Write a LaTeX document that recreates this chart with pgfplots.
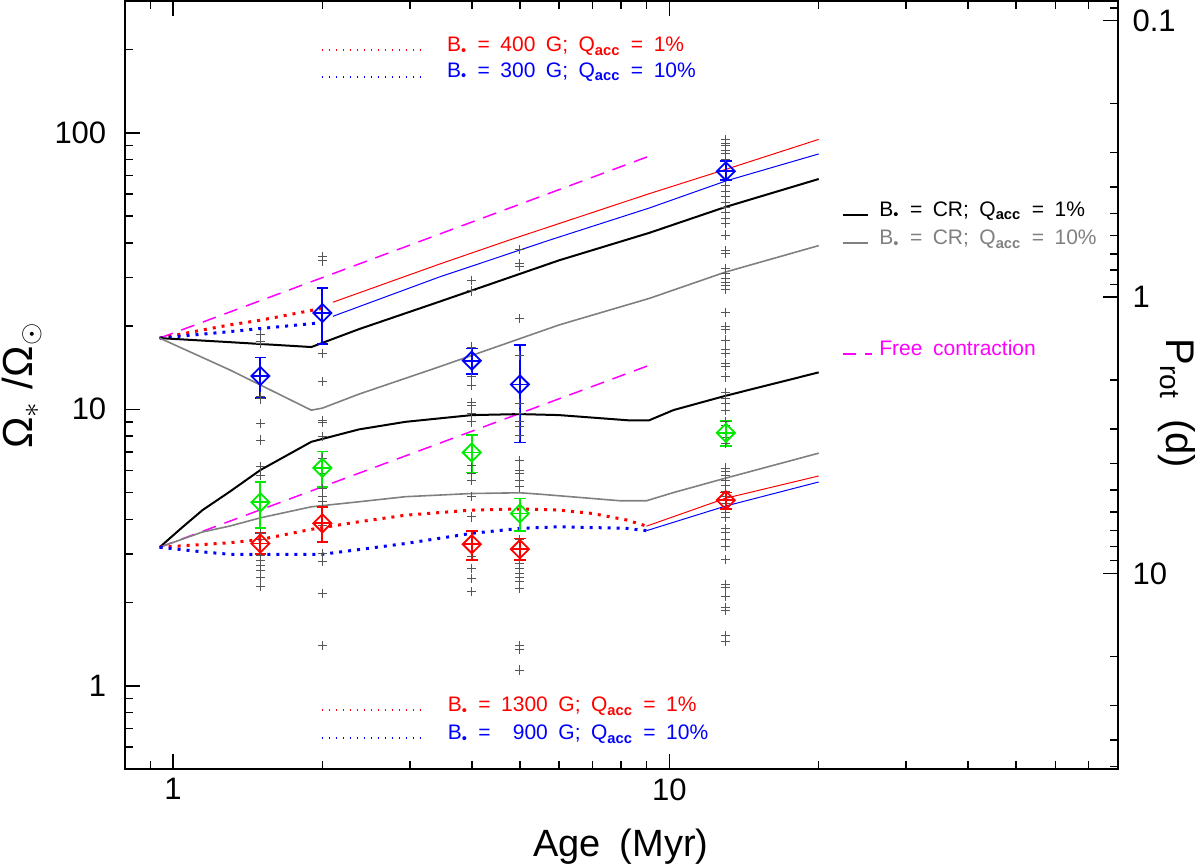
\documentclass[border=0pt]{standalone}
\usepackage{fontspec}
\setmainfont{Liberation Sans}
\usepackage{pgfplots}
\pgfplotsset{compat=1.18}
\definecolor{cgray}{RGB}{128,128,128}
\definecolor{ccross}{RGB}{85,85,85}
\definecolor{cgreen}{RGB}{0,235,0}
\definecolor{cred}{RGB}{255,0,0}
\definecolor{cblue}{RGB}{0,0,255}
\definecolor{cmag}{RGB}{255,0,255}
\newcommand{\gp}{\hspace{0.5em}}
\newcommand{\Bs}{B\textsubscript{\textbullet}}
\newcommand{\Qa}{Q\textsubscript{\textbf{acc}}}
\tikzset{
  thickdot/.style={line width=1.5pt, dash pattern=on 1.5pt off 3pt},
  legdot/.style={line width=0.8pt, dash pattern=on 0.7pt off 2.8pt},
  magdash/.style={cmag, line width=0.75pt, dash pattern=on 7pt off 4.5pt},
  legfont/.style={font=\fontsize{10.5}{12}\selectfont},
}
\pgfplotsset{
  ebar/.style={only marks, mark=square, mark size=3.2pt, mark options={rotate=45, line width=0.9pt},
    error bars/.cd, y dir=both, y explicit, error mark=-,
    error mark options={rotate=90, mark size=2.9pt, line width=0.9pt},
    error bar style={line width=0.9pt}},
  cplus/.style={only marks, mark=+, mark size=4.5pt, mark options={line width=0.9pt}},
}
\begin{document}
\begin{tikzpicture}
\path[use as bounding box] (0pt,0pt) rectangle (600pt,432.5pt);
\begin{axis}[
  at={(62.45pt,48pt)}, anchor=south west, scale only axis,
  width=496.3pt, height=384pt,
  xmode=log, ymode=log, xmin=0.8, xmax=80, ymin=0.5, ymax=300,
  xtick={1,10}, xticklabels={1,10},
  minor xtick={0.9,2,3,4,5,6,7,8,9,20,30,40,50,60,70},
  ytick={1,10,100}, yticklabels={1,10,100},
  minor ytick={0.6,0.7,0.8,0.9,2,3,4,5,6,7,8,9,20,30,40,50,60,70,80,90,200},
  ytick pos=left,
  tick align=inside,
  major tick length=7.5pt, minor tick length=3.9pt,
  every tick/.style={black, line width=0.75pt},
  axis line style={line width=1pt},
  ticklabel style={font=\fontsize{15.5}{16}\selectfont},
  xticklabel style={yshift=-1.3pt},
  yticklabel style={xshift=-5.8pt},
  /pgf/number format/assume math mode=true,
  clip=false,
]
% individual stars
\addplot[only marks, mark=+, mark size=2.3pt, ccross, mark options={line width=0.5pt}] coordinates {
(1.5,18.7)(1.5,17.6)(1.5,17.3)(1.5,11.1)(1.5,10.9)(1.5,8.89)(1.5,7.74)(1.5,6.19)(1.5,5.78)(1.5,3.56)(1.5,3.38)(1.5,2.97)(1.5,2.85)(1.5,2.73)(1.5,2.62)(1.5,2.47)(1.5,2.28)
(2,35.6)(2,34.4)(2,15.9)(2,12.6)(2,9.14)(2,8.94)(2,7.95)(2,6.64)(2,5.86)(2,5.18)(2,4.83)(2,4.63)(2,3.81)(2,3.01)(2,2.81)(2,2.16)(2,1.40)
(4,29.3)(4,26.8)(4,16.8)(4,13.1)(4,12.2)(4,10.6)(4,10.3)(4,9.67)(4,9.0)(4,6.28)(4,5.86)(4,5.55)(4,4.83)(4,4.08)(4,2.93)(4,2.66)(4,2.45)(4,2.19)
(5,37.9)(5,33.7)(5,32.8)(5,21.3)(5,15.7)(5,10.5)(5,9.67)(5,9.01)(5,8.65)(5,8.07)(5,6.55)(5,6.03)(5,5.86)(5,5.55)(5,5.24)(5,3.37)(5,2.77)(5,2.66)(5,2.55)(5,2.47)(5,2.38)(5,2.25)(5,1.40)(5,1.35)(5,1.14)
(13,94.7)(13,91.8)(13,89.7)(13,86.6)(13,84.0)(13,80.4)(13,64.3)(13,61.5)(13,58.8)(13,56.2)(13,53.8)(13,51.4)(13,49.2)(13,47.1)(13,42.7)(13,37.6)(13,36.5)(13,32.4)(13,31.0)(13,29.8)(13,28.8)(13,28.0)(13,27.1)(13,22.4)(13,19.9)(13,19.5)(13,17.8)(13,16.4)(13,15.9)(13,14.6)(13,14.3)(13,13.1)(13,11.5)(13,10.96)(13,10.5)(13,9.88)(13,9.03)(13,8.77)(13,8.26)(13,7.90)(13,7.55)(13,6.13)(13,5.96)(13,5.78)(13,5.53)(13,5.29)(13,5.06)(13,4.84)(13,4.56)(13,4.23)(13,4.05)(13,3.70)(13,3.59)(13,3.37)(13,3.19)(13,2.87)(13,2.33)(13,2.26)(13,2.10)(13,1.92)(13,1.87)(13,1.52)(13,1.45)
};
% free contraction
\addplot[magdash] coordinates {(0.94,18.1) (9.33,83.7)};
\addplot[magdash] coordinates {(0.94,3.17) (9.33,14.66)};
% upper branch: B = 400 G / 300 G
\addplot[cred, thickdot] coordinates {(0.94,18.1)(1.3,20.2)(1.5,21.0)(2.0,23.2)};
\addplot[cblue, thickdot] coordinates {(0.94,18.1)(1.3,19.1)(1.5,19.6)(1.95,20.5)};
\addplot[cred, line width=0.5pt] coordinates {(2.1,24.4)(3.44,33.5)(4.75,40.9)(9.12,60.3)(13,73.8)(20,94.7)};
\addplot[cblue, line width=0.5pt] coordinates {(2.1,21.7)(3.44,30.1)(5.73,40.9)(9.12,53.5)(13,67)(20,83.9)};
% CR 1% / 10% upper
\addplot[black, line width=1pt] coordinates {(0.94,18.1)(1.3,17.5)(1.9,16.8)(2.37,19.5)(3.44,24.5)(6.0,34.6)(9.12,43.5)(13,54)(20,68.1)};
\addplot[cgray, line width=0.8pt] coordinates {(0.94,18.1)(1.3,13.9)(1.9,9.93)(2.0,10.1)(2.37,11.35)(3.44,14.25)(6.0,20.2)(9.12,25.2)(13,31.4)(20,39.1)};
% lower branch CR
\addplot[black, line width=1pt] coordinates {(0.94,3.17)(1.04,3.72)(1.147,4.32)(1.3,5.03)(1.5,6.03)(1.9,7.63)(2.37,8.46)(2.94,9.01)(4,9.53)(5,9.61)(6,9.53)(8.3,9.12)(9.1,9.12)(10.2,9.94)(13,11.2)(20,13.6)};
\addplot[cgray, line width=0.8pt] coordinates {(0.94,3.17)(1.147,3.6)(1.3,3.78)(1.5,4.05)(1.9,4.44)(2.37,4.63)(2.94,4.83)(4,4.96)(5,4.99)(5.5,4.93)(7.95,4.67)(9.0,4.67)(10.2,5.0)(13,5.64)(20,6.94)};
% lower branch: B = 1300 G / 900 G
\addplot[cred, thickdot] coordinates {(0.94,3.17)(1.3,3.29)(1.5,3.38)(1.9,3.68)(2.37,3.92)(2.94,4.14)(4,4.32)(5,4.36)(6,4.32)(7,4.2)(8.2,3.98)(9.0,3.78)};
\addplot[cred, line width=0.5pt] coordinates {(9.0,3.78)(13,4.77)(20,5.74)};
\addplot[cblue, thickdot] coordinates {(0.94,3.17)(1.147,3.05)(1.3,2.99)(1.5,2.99)(2.0,2.99)(2.37,3.11)(2.94,3.27)(4,3.56)(5,3.71)(6,3.76)(8.2,3.71)(9.0,3.64)};
\addplot[cblue, line width=0.5pt] coordinates {(9.0,3.64)(13,4.47)(20,5.46)};
% observed medians with error bars
\addplot[cblue, ebar]
  coordinates {(1.5,13.2) += (0,2.2) -= (0,2.2) (2,22.3) += (0,5.2) -= (0,5.1) (4,15.0) += (0,1.6) -= (0,1.6) (5,12.3) += (0,4.8) -= (0,4.71) (13,72.6) += (0,6.5) -= (0,5.2)};
\addplot[cblue, cplus] coordinates {(1.5,13.2)(2,22.3)(4,15.0)(5,12.3)(13,72.6)};
\addplot[cgreen, ebar]
  coordinates {(1.5,4.61) += (0,0.84) -= (0,0.88) (2,6.14) += (0,0.9) -= (0,0.92) (4,6.98) += (0,1.09) -= (0,1.07) (5,4.20) += (0,0.56) -= (0,0.56) (13,8.22) += (0,0.83) -= (0,0.87)};
\addplot[cgreen, cplus] coordinates {(1.5,4.61)(2,6.14)(4,6.98)(5,4.20)(13,8.22)};
\addplot[cred, ebar]
  coordinates {(1.5,3.27) += (0,0.31) -= (0,0.28) (2,3.87) += (0,0.55) -= (0,0.55) (4,3.25) += (0,0.39) -= (0,0.4) (5,3.12) += (0,0.29) -= (0,0.27) (13,4.69) += (0,0.31) -= (0,0.32)};
\addplot[cred, cplus] coordinates {(1.5,3.27)(2,3.87)(4,3.25)(5,3.12)(13,4.69)};
\end{axis}
% right-hand rotation-period axis
\begin{axis}[
  at={(62.45pt,48pt)}, anchor=south west, scale only axis,
  width=496.3pt, height=384pt,
  xmode=log, xmin=0.8, xmax=80, hide x axis,
  ymode=log, y dir=reverse, ymin=0.085, ymax=51,
  axis y line*=right,
  ytick={0.1,1,10}, yticklabels={0.1,1,10},
  minor ytick={0.09,0.2,0.3,0.4,0.5,0.6,0.7,0.8,0.9,2,3,4,5,6,7,8,9,20,30,40,50},
  tick align=inside,
  major tick length=7.5pt, minor tick length=3.9pt,
  every tick/.style={black, line width=0.75pt},
  axis line style={line width=1pt},
  ticklabel style={font=\fontsize{15.5}{16}\selectfont},
  yticklabel style={anchor=west, xshift=4pt},
  /pgf/number format/assume math mode=true,
]
\addplot[draw=none] coordinates {(1,1)};
\end{axis}
% axis labels
\node[anchor=base, font=\fontsize{19}{20}\selectfont] at (310.5pt,4.2pt) {Age\gp(Myr)};
\node[anchor=base, rotate=90, font=\fontsize{21}{22}\selectfont] at (16.5pt,239.75pt) {Ω$_{*}$\hspace{0.3em}/Ω$_{\odot}$};
\node[anchor=base, rotate=-90, font=\fontsize{20}{22}\selectfont] at (583.3pt,230.75pt) {P\textsubscript{rot}\gp(d)};
% legends
\draw[cred, legdot] (160.8pt,407.6pt) -- (210.8pt,407.6pt);
\node[anchor=base west, legfont, text=cred, inner sep=0pt] at (223.3pt,406.6pt) {\Bs\gp=\gp400\gp G;\gp\Qa\gp=\gp1\%};
\draw[cblue, legdot] (160.8pt,394.1pt) -- (210.8pt,394.1pt);
\node[anchor=base west, legfont, text=cblue, inner sep=0pt] at (223.3pt,393.8pt) {\Bs\gp=\gp300\gp G;\gp\Qa\gp=\gp10\%};
\draw[cred, legdot] (160.8pt,77.5pt) -- (210.8pt,77.5pt);
\node[anchor=base west, legfont, text=cred, inner sep=0pt] at (223.7pt,76.6pt) {\Bs\gp=\gp1300\gp G;\gp\Qa\gp=\gp1\%};
\draw[cblue, legdot] (160.8pt,63.5pt) -- (210.8pt,63.5pt);
\node[anchor=base west, legfont, text=cblue, inner sep=0pt] at (223.7pt,62.5pt) {\Bs\gp=\gp\phantom{1}900\gp G;\gp\Qa\gp=\gp10\%};
\draw[black, line width=0.9pt] (421.6pt,325pt) -- (434pt,325pt);
\node[anchor=base west, legfont, text=black, inner sep=0pt] at (439.5pt,324.2pt) {\Bs\gp=\gp CR;\gp\Qa\gp=\gp1\%};
\draw[cgray, line width=0.8pt] (421.6pt,311pt) -- (434pt,311pt);
\node[anchor=base west, legfont, text=cgray, inner sep=0pt] at (439.5pt,310pt) {\Bs\gp=\gp CR;\gp\Qa\gp=\gp10\%};
\draw[cmag, line width=0.9pt, dash pattern=on 6.2pt off 4.6pt] (421.6pt,255.6pt) -- (436pt,255.6pt);
\node[anchor=base west, legfont, text=cmag, inner sep=0pt] at (439.5pt,254.6pt) {Free\gp contraction};
\end{tikzpicture}
\end{document}
